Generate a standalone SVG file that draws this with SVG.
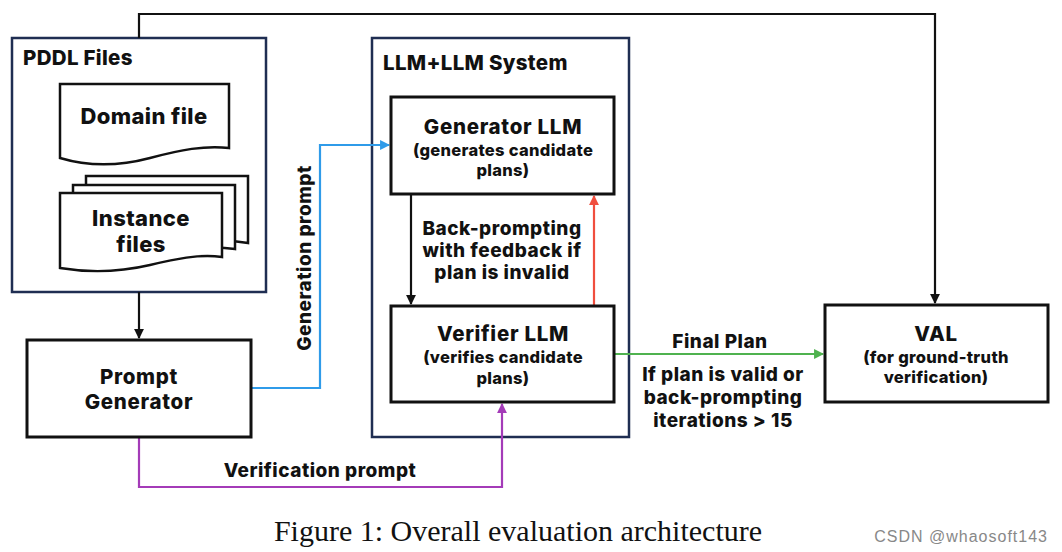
<svg xmlns="http://www.w3.org/2000/svg" width="1062" height="552" viewBox="0 0 1062 552">
<style>
.frame{fill:none;stroke:#1f2e52;stroke-width:2.5}
.box{fill:#fff;stroke:#111;stroke-width:3}
.doc{fill:#fff;stroke:#111;stroke-width:2.5}
.t{font-family:Inter,"Open Sans","DejaVu Sans",sans-serif;font-weight:800;fill:#111}
.h{font-size:20.5px;letter-spacing:0.7px}
.s{font-size:16.5px;letter-spacing:0.3px}
.l{font-size:19px;letter-spacing:0.5px}
.c{text-anchor:middle}
.con{fill:none;stroke-width:2.2}
</style>
<defs>
<marker id="ak" viewBox="0 0 10 10" refX="9" refY="5" markerWidth="4.5" markerHeight="4.5" orient="auto" markerUnits="strokeWidth"><path d="M0,0 L10,5 L0,10 Z" fill="#111"/></marker>
<marker id="ab" viewBox="0 0 10 10" refX="9" refY="5" markerWidth="4.5" markerHeight="4.5" orient="auto" markerUnits="strokeWidth"><path d="M0,0 L10,5 L0,10 Z" fill="#2f9be9"/></marker>
<marker id="ar" viewBox="0 0 10 10" refX="9" refY="5" markerWidth="4.5" markerHeight="4.5" orient="auto" markerUnits="strokeWidth"><path d="M0,0 L10,5 L0,10 Z" fill="#f04e3e"/></marker>
<marker id="ag" viewBox="0 0 10 10" refX="9" refY="5" markerWidth="4.5" markerHeight="4.5" orient="auto" markerUnits="strokeWidth"><path d="M0,0 L10,5 L0,10 Z" fill="#4fb24f"/></marker>
<marker id="ap" viewBox="0 0 10 10" refX="9" refY="5" markerWidth="4.5" markerHeight="4.5" orient="auto" markerUnits="strokeWidth"><path d="M0,0 L10,5 L0,10 Z" fill="#a43bb8"/></marker>
</defs>
<rect width="1062" height="552" fill="#fff"/>

<g id="pddl-files">
<rect class="frame" x="12" y="38" width="254" height="254"/>
<text class="t h" x="23" y="65" style="letter-spacing:0.3px">PDDL Files</text>
</g>

<g id="llm-system">
<rect class="frame" x="372" y="38" width="257" height="399"/>
<text class="t h" x="383" y="70" style="letter-spacing:0.3px">LLM+LLM System</text>
</g>

<g id="connectors">
<path class="con" d="M139,38 V14 H935 V303" stroke="#111" marker-end="url(#ak)"/>
<path class="con" d="M139,292 V338" stroke="#111" marker-end="url(#ak)"/>
<path class="con" d="M251,388 H320 V145 H389" stroke="#2f9be9" marker-end="url(#ab)"/>
<path class="con" d="M411,194 V304" stroke="#111" marker-end="url(#ak)"/>
<path class="con" d="M594,306 V196" stroke="#f04e3e" marker-end="url(#ar)"/>
<path class="con" d="M614,354 H823" stroke="#4fb24f" marker-end="url(#ag)"/>
<path class="con" d="M139,437 V487 H502 V404" stroke="#a43bb8" marker-end="url(#ap)"/>
<text class="t l c" transform="translate(311,258) rotate(-90)">Generation prompt</text>
<text class="t l c" x="320" y="477">Verification prompt</text>
<text class="t l c" x="720" y="348">Final Plan</text>
<text class="t l c" x="723" y="381">If plan is valid or</text>
<text class="t l c" x="723" y="404">back-prompting</text>
<text class="t l c" x="723" y="427">iterations &gt; 15</text>
<text class="t l c" x="502" y="235">Back-prompting</text>
<text class="t l c" x="502" y="257">with feedback if</text>
<text class="t l c" x="502" y="279">plan is invalid</text>
</g>

<g id="domain-file">
<path class="doc" d="M60,84 H229 V148 C205,145 180,150 150,158 C120,166 90,167 60,158 Z"/>
<text class="t c" style="font-size:22px;letter-spacing:0.4px" x="144" y="124">Domain file</text>
</g>

<g id="instance-files">
<path class="doc" d="M86,176 H248 V243 C230,240 212,241 200,244 L86,244 Z"/>
<path class="doc" d="M73,185 H235 V249 C215,246 195,248 180,252 L73,252 Z"/>
<path class="doc" d="M60,193 H222 V257 C198,254 175,259 150,265 C120,272 90,273 60,268 Z"/>
<text class="t c" style="font-size:22px;letter-spacing:0.4px" x="141" y="226">Instance</text>
<text class="t c" style="font-size:22px;letter-spacing:0.4px" x="141" y="252">files</text>
</g>

<g id="prompt-generator">
<rect class="box" x="27" y="340" width="224" height="97"/>
<text class="t h c" x="139" y="384">Prompt</text>
<text class="t h c" x="139" y="409">Generator</text>
</g>

<g id="generator-llm">
<rect class="box" x="391" y="97" width="223" height="97"/>
<text class="t h c" x="503" y="134">Generator LLM</text>
<text class="t s c" x="503" y="156">(generates candidate</text>
<text class="t s c" x="503" y="176">plans)</text>
</g>

<g id="verifier-llm">
<rect class="box" x="391" y="306" width="223" height="96"/>
<text class="t h c" x="503" y="341">Verifier LLM</text>
<text class="t s c" x="503" y="363">(verifies candidate</text>
<text class="t s c" x="503" y="384">plans)</text>
</g>

<g id="val">
<rect class="box" x="825" y="305" width="223" height="97"/>
<text class="t h c" x="936" y="341">VAL</text>
<text class="t s c" x="936" y="363">(for ground-truth</text>
<text class="t s c" x="936" y="383">verification)</text>
</g>

<text x="518" y="541" text-anchor="middle" font-family="Liberation Serif,serif" font-size="30" fill="#111">Figure 1: Overall evaluation architecture</text>
<text x="1048" y="542" text-anchor="end" font-family="Liberation Sans,sans-serif" font-size="16" letter-spacing="1" fill="#888">CSDN @whaosoft143</text>
</svg>
